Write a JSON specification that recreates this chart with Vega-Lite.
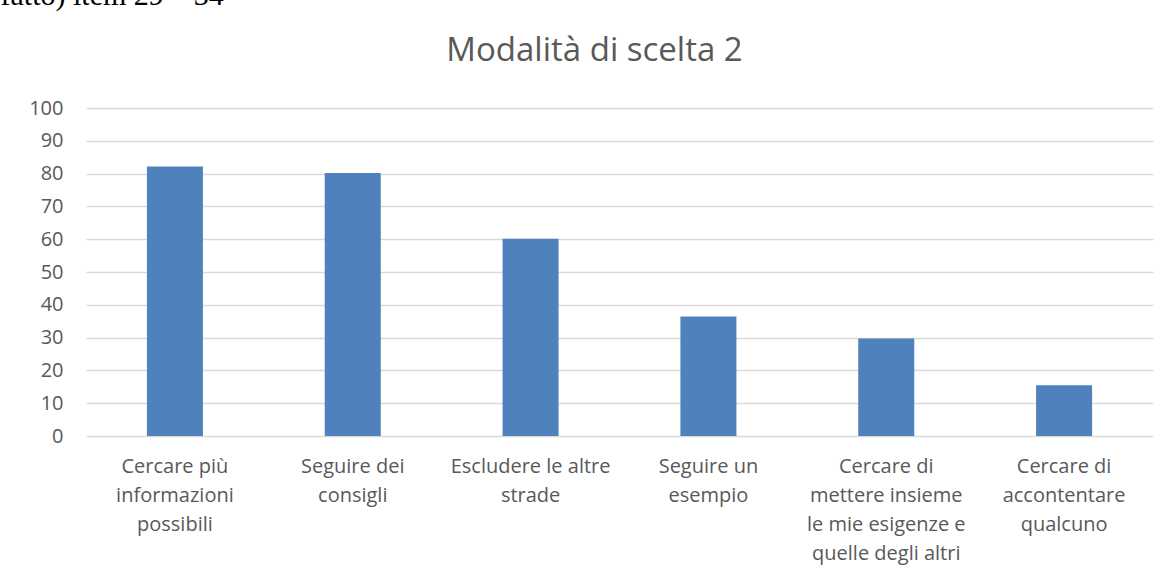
{
  "$schema": "https://vega.github.io/schema/vega-lite/v6.json",
  "autosize": {"type": "none"},
  "width": 1067,
  "height": 328,
  "padding": {"left": 86, "top": 108, "right": 18, "bottom": 142},
  "background": "white",
  "title": {
    "text": "Modalità di scelta 2",
    "anchor": "middle",
    "frame": "group",
    "baseline": "bottom",
    "offset": -121,
    "dx": -25,
    "font": "Open Sans",
    "fontSize": 33,
    "fontWeight": "normal",
    "color": "#595959"
  },
  "data": {
    "values": [
      {"modalita": "Cercare più\ninformazioni\npossibili", "valore": 82.2},
      {"modalita": "Seguire dei\nconsigli", "valore": 80.2},
      {"modalita": "Escludere le altre\nstrade", "valore": 60.1},
      {"modalita": "Seguire un\nesempio", "valore": 36.4},
      {"modalita": "Cercare di\nmettere insieme\nle mie esigenze e\nquelle degli altri", "valore": 29.7},
      {"modalita": "Cercare di\naccontentare\nqualcuno", "valore": 15.5}
    ]
  },
  "mark": {"type": "bar", "color": "#4F81BD"},
  "encoding": {
    "x": {
      "field": "modalita",
      "type": "nominal",
      "sort": null,
      "scale": {"paddingInner": 0.685, "paddingOuter": 0.3425},
      "axis": {
        "title": null,
        "labelAngle": 0,
        "labelExpr": "split(datum.label, '\\n')",
        "labelFont": "Open Sans",
        "labelFontSize": 20,
        "labelColor": "#595959",
        "labelLineHeight": 29,
        "labelPadding": 20,
        "labelBaseline": "top",
        "labelLimit": 300,
        "ticks": false,
        "domain": false
      }
    },
    "y": {
      "field": "valore",
      "type": "quantitative",
      "scale": {"domain": [0, 100], "nice": false},
      "axis": {
        "values": [0, 10, 20, 30, 40, 50, 60, 70, 80, 90, 100],
        "title": "fatto) item 29 – 34",
        "titleAngle": 0,
        "titleX": -86,
        "titleY": -104,
        "titleAlign": "left",
        "titleBaseline": "alphabetic",
        "titleFont": "Liberation Serif",
        "titleFontSize": 30,
        "titleFontWeight": "normal",
        "titleColor": "#000000",
        "labelFont": "Open Sans",
        "labelFontSize": 20,
        "labelColor": "#595959",
        "labelPadding": 23,
        "ticks": false,
        "domain": false,
        "grid": true,
        "gridColor": "#D9D9D9",
        "gridWidth": 1.3
      }
    }
  },
  "config": {"view": {"stroke": null}}
}
